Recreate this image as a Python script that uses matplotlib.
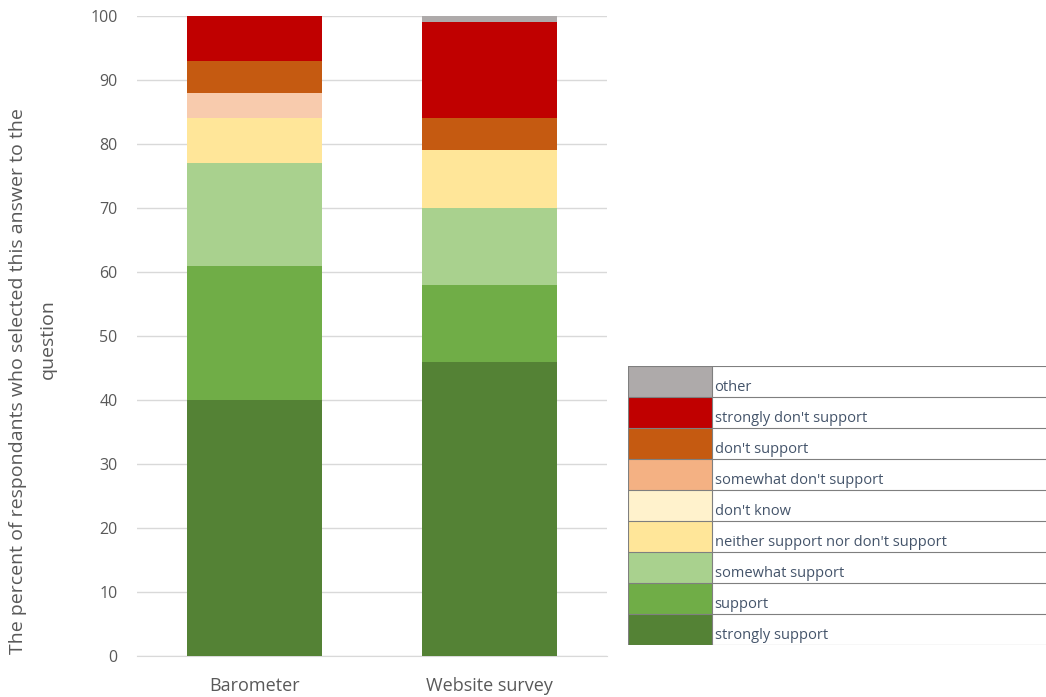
import matplotlib.pyplot as plt
import numpy as np

# data
groups = ['Barometer', 'Website survey']
answers = ['strongly support', 'support', 'somewhat support',
           'neither support nor don\'t support', 'don\'t know',
           'somewhat don\'t support', 'don\'t support',
           'strongly don\'t support', 'other']
barometer = [40, 21, 16, 7, 0, 4, 5, 7, 0]
website = [46, 12, 12, 9, 0, 0, 5, 15, 1]
colors = ['#548235', '#70AD47', '#A9D18E', '#FFE699', '#FFF2CC',
          '#F4B183', '#C55A11', '#C00000', '#AEAAAA']
bar_colors = ['#548235', '#70AD47', '#A9D18E', '#FFE699', '#FFF2CC',
              '#F8CBAD', '#C55A11', '#C00000', '#AEAAAA']

plt.rcParams['font.family'] = ['Open Sans', 'DejaVu Sans']

fig = plt.figure(figsize=(10.46, 6.97), dpi=100)
ax = fig.add_axes([137/1046, 1-656/697, 470/1046, 640/697])

x = np.arange(len(groups))
values = np.array([barometer, website])
bottom = np.zeros(len(groups))
for i in range(len(answers)):
    ax.bar(x, values[:, i], 0.573, bottom=bottom, color=bar_colors[i], zorder=3)
    bottom += values[:, i]

ax.set_xlim(-0.5, 1.5)
ax.set_ylim(0, 100)
ax.set_yticks(range(0, 101, 10))
ax.set_xticks(x)
ax.set_xticklabels(groups, fontsize=13, color='#595959')
ax.tick_params(axis='y', labelsize=11.5, colors='#595959', length=0, pad=14)
ax.tick_params(axis='x', length=0, pad=15)
ax.grid(axis='y', color='#D9D9D9', linewidth=1, zorder=0)
for s in ['top', 'right', 'left']:
    ax.spines[s].set_visible(False)
ax.spines['bottom'].set_color('#D9D9D9')

# axis title, wrapped in two lines like the original
fig.text(18/1046, 1-381/697, 'The percent of respondants who selected this answer to the',
         rotation=90, fontsize=14, color='#595959', ha='center', va='center')
fig.text(48/1046, 1-339/697, 'question',
         rotation=90, fontsize=14, color='#595959', ha='center', va='center')

# table-like legend on the right
lg = fig.add_axes([628/1046, 1-645/697, 418/1046, 279/697])
n = len(answers)
rows = np.arange(n)
lg.barh(rows, [1]*n, height=1, left=0, color=colors, align='edge')
lg.set_xlim(0, 418/84)
lg.set_ylim(0, n)
for r in range(n + 1):
    lg.axhline(r, color='#7F7F7F', linewidth=0.8)
lg.axvline(0, color='#7F7F7F', linewidth=0.8)
lg.axvline(1, color='#7F7F7F', linewidth=0.8)
for r, name in enumerate(answers):
    lg.text(1.03, r + 0.08, name, fontsize=10.5, color='#44546A', va='bottom', ha='left')
lg.axis('off')

fig.savefig('out.png', dpi=100)
